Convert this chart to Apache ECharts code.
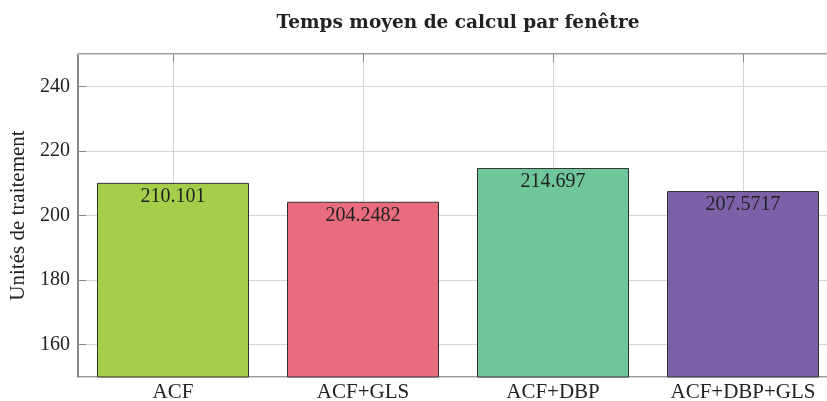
<!DOCTYPE html>
<html>
<head>
<meta charset="utf-8">
<script src="https://cdn.jsdelivr.net/npm/echarts@6/dist/echarts.min.js"></script>
<style>
  html, body { margin: 0; padding: 0; background: #fff; }
  #chart { width: 827px; height: 401px; }
</style>
</head>
<body>
<div id="chart"></div>
<script>
// Mean computation time per window, one bar per method
const categories = ['ACF', 'ACF+GLS', 'ACF+DBP', 'ACF+DBP+GLS'];
const values = [210.101, 204.2482, 214.697, 207.5717];
const barColors = ['#a6ce4a', '#e96c7e', '#6fc69a', '#7a61a8'];
const titleText = 'Temps moyen de calcul par fenêtre';
const yAxisTitle = 'Unités de traitement';
const yMin = 150;
const yMax = 250;

const FONT = '"Liberation Serif", "Times New Roman", serif';
const TITLE_FONT = '"DejaVu Serif", "Liberation Serif", serif';

// Helper axis: 2 slots per category, so odd slots sit on category centres
const halfSlots = [];
for (let i = 0; i <= categories.length * 2; i++) halfSlots.push(String(i));
const onCentre = (i) => i % 2 === 1;

const chart = echarts.init(document.getElementById('chart'), null, { renderer: 'canvas' });

chart.setOption({
  animation: false,
  backgroundColor: '#ffffff',
  title: {
    text: titleText,
    left: 458,
    top: 14,
    padding: 0,
    textAlign: 'center',
    textStyle: { fontFamily: TITLE_FONT, fontWeight: 'bold', fontSize: 18.5, color: '#222' }
  },
  grid: {
    left: 78,
    top: 54,
    right: -11,
    bottom: 24,
    outerBoundsMode: 'none',
    containLabel: false,
    show: true,
    borderColor: '#3a3a3a',
    borderWidth: 1.2,
    backgroundColor: 'transparent'
  },
  xAxis: [
    {
      type: 'category',
      data: categories,
      position: 'bottom',
      axisLine: { show: false },
      axisTick: { show: false },
      splitLine: { show: false },
      axisLabel: { fontFamily: FONT, fontSize: 21, color: '#222', margin: 5 }
    },
    {
      type: 'category',
      data: halfSlots,
      boundaryGap: false,
      position: 'top',
      axisLine: { show: false },
      axisLabel: { show: false },
      axisTick: {
        show: true, inside: true, length: 8, interval: onCentre,
        lineStyle: { color: '#888', width: 1 }
      },
      splitLine: {
        show: true, interval: onCentre,
        lineStyle: { color: '#d4d4d4', width: 1 }
      }
    }
  ],
  yAxis: {
    type: 'value',
    min: yMin,
    max: yMax,
    splitNumber: 5,
    name: yAxisTitle,
    nameLocation: 'middle',
    nameGap: 49,
    nameTextStyle: { fontFamily: FONT, fontSize: 21, color: '#222' },
    axisLine: { show: false },
    axisTick: { show: true, inside: true, length: 8, lineStyle: { color: '#888', width: 1 } },
    axisLabel: {
      fontFamily: FONT, fontSize: 20, color: '#222', margin: 8,
      showMinLabel: false, showMaxLabel: false
    },
    splitLine: { show: true, lineStyle: { color: '#d4d4d4', width: 1 } }
  },
  series: [
    {
      type: 'bar',
      xAxisIndex: 0,
      barWidth: '80%',
      data: values.map((v, i) => ({
        value: v,
        itemStyle: { color: barColors[i] }
      })),
      itemStyle: { borderColor: '#333', borderWidth: 1 },
      label: {
        show: true,
        position: 'insideTop',
        distance: 4,
        fontFamily: FONT,
        fontSize: 20,
        color: '#222',
        formatter: (p) => String(p.value)
      },
      z: 3
    }
  ]
});
</script>
</body>
</html>
